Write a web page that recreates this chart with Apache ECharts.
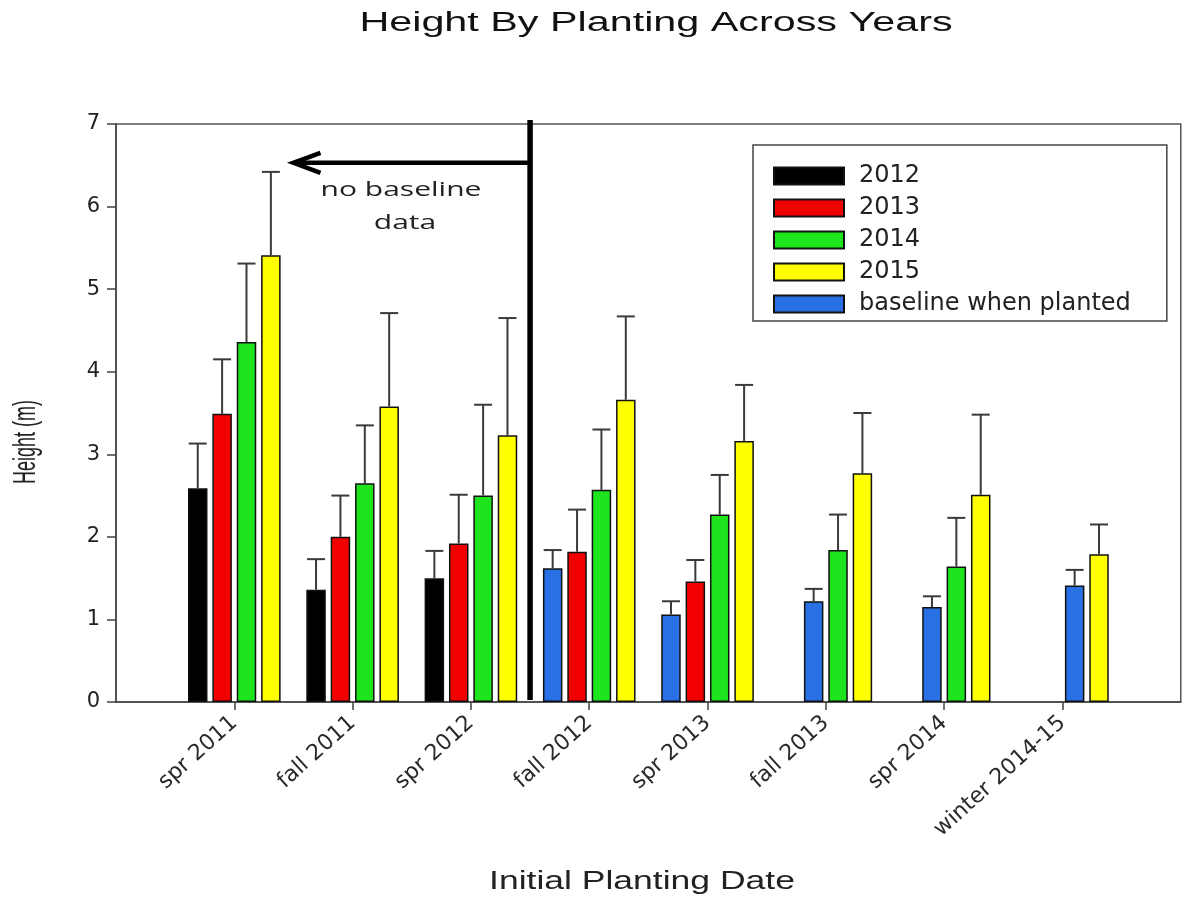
<!DOCTYPE html>
<html>
<head>
<meta charset="utf-8">
<script src="https://cdn.jsdelivr.net/npm/echarts@6/dist/echarts.min.js"></script>
<style>
html,body{margin:0;padding:0;background:#fff;}
#main{width:1183px;height:898px;}
</style>
</head>
<body>
<div id="main"></div>
<script>
// ---- data ----
const categories = ['spr 2011','fall 2011','spr 2012','fall 2012','spr 2013','fall 2013','spr 2014','winter 2014-15'];
const years = ['2012','2013','2014','2015'];
const h2012 = [2.59, 1.36, 1.50, null, null, null, null, null];
const h2013 = [3.49, 2.00, 1.92, 1.82, 1.46, null, null, null];
const h2014 = [4.36, 2.65, 2.50, 2.57, 2.27, 1.84, 1.64, null];
const h2015 = [5.41, 3.58, 3.23, 3.66, 3.16, 2.77, 2.51, 1.79];
const e2012 = [0.54, 0.37, 0.33, null, null, null, null, null];
const e2013 = [0.66, 0.50, 0.59, 0.51, 0.26, null, null, null];
const e2014 = [0.95, 0.70, 1.10, 0.73, 0.48, 0.43, 0.59, null];
const e2015 = [1.01, 1.13, 1.42, 1.01, 0.68, 0.73, 0.97, 0.36];
const baseline = [null, null, null, 1.62, 1.06, 1.22, 1.15, 1.41];
const baselineErr = [null, null, null, 0.22, 0.16, 0.15, 0.13, 0.19];
const baselineColumn = [null, null, null, '2012', '2012', '2013', '2013', '2014'];
const yTicks = [0, 1, 2, 3, 4, 5, 6, 7];
const baselineName = 'baseline when planted';

// ---- styling ----
const yearVals = {'2012': h2012, '2013': h2013, '2014': h2014, '2015': h2015};
const yearErr = {'2012': e2012, '2013': e2013, '2014': e2014, '2015': e2015};
const colors = {'2012': '#000000', '2013': '#f20000', '2014': '#1ee41e', '2015': '#ffff00'};
const baseColor = '#2870e4';
const BAR_W = 19.5, GAP = 0.25, PITCH = BAR_W * (1 + GAP);
const axisCats = [''].concat(categories, ['']);
const FONT = 'DejaVu Sans';

const chart = echarts.init(document.getElementById('main'), null, {renderer: 'canvas'});

const barSeries = years.map(function (y) {
  return {
    type: 'bar', name: y, barWidth: BAR_W, barGap: (GAP * 100) + '%',
    itemStyle: {color: colors[y], borderColor: '#111', borderWidth: 1.5},
    z: 2,
    data: axisCats.map(function (c, k) {
      if (k === 0 || k === axisCats.length - 1) return null;
      const i = k - 1;
      if (baselineColumn[i] === y) return {value: baseline[i], itemStyle: {color: baseColor}};
      return yearVals[y][i];
    })
  };
});

const errData = [];
years.forEach(function (y, s) {
  yearVals[y].forEach(function (v, i) {
    if (v != null) errData.push([i + 1, s, v, yearErr[y][i]]);
  });
});
baseline.forEach(function (v, i) {
  if (v != null) errData.push([i + 1, years.indexOf(baselineColumn[i]), v, baselineErr[i]]);
});

const errSeries = {
  type: 'custom', name: 'err', xAxisIndex: 0, yAxisIndex: 0, z: 3,
  encode: {x: 0, y: 2},
  data: errData,
  renderItem: function (params, api) {
    const k = api.value(0), slot = api.value(1), v = api.value(2), e = api.value(3);
    const b = api.coord([k, v]);
    const t = api.coord([k, v + e]);
    const x = b[0] + (slot - 1.5) * PITCH;
    const st = {stroke: '#3a3a3a', lineWidth: 2};
    return {type: 'group', children: [
      {type: 'line', shape: {x1: x, y1: b[1], x2: x, y2: t[1]}, style: st},
      {type: 'line', shape: {x1: x - 9, y1: t[1], x2: x + 9, y2: t[1]}, style: st}
    ]};
  }
};

const dummyBaseline = {
  type: 'bar', name: baselineName, xAxisIndex: 1, data: [],
  itemStyle: {color: baseColor, borderColor: '#111', borderWidth: 1.5}
};

chart.setOption({
  animation: false,
  backgroundColor: '#ffffff',
  grid: {left: 116, right: -6, top: 124, bottom: 196, show: true, borderColor: '#555', borderWidth: 1.5, backgroundColor: 'transparent'},
  legend: {
    orient: 'vertical', left: 753, top: 145,
    data: years.concat([baselineName]),
    icon: 'rect', itemWidth: 70, itemHeight: 17, itemGap: 8,
    padding: [19, 36, 5, 20],
    borderColor: '#444', borderWidth: 1.5, backgroundColor: '#fff',
    textStyle: {fontFamily: FONT, fontSize: 24, color: '#222', padding: [0, 0, 0, 10]},
    selectedMode: false
  },
  xAxis: [{
    type: 'category', data: axisCats, boundaryGap: false,
    axisLine: {lineStyle: {color: '#444', width: 1.5}},
    axisTick: {show: true, length: 8, inside: false, lineStyle: {color: '#444', width: 1.5},
      interval: function (idx) { return idx > 0 && idx < axisCats.length - 1; }},
    axisLabel: {rotate: 42, interval: 0, margin: 18, fontFamily: FONT, fontSize: 22, color: '#2a2a2a'},
    splitLine: {show: false}
  }, {
    type: 'category', data: axisCats, boundaryGap: false, show: false
  }],
  yAxis: [{
    type: 'value', min: yTicks[0], max: yTicks[yTicks.length - 1], interval: 1,
    axisLine: {show: true, lineStyle: {color: '#444', width: 1.5}},
    axisTick: {show: true, length: 9, lineStyle: {color: '#444', width: 1.5}},
    axisLabel: {margin: 16, fontFamily: FONT, fontSize: 21, color: '#222'},
    splitLine: {show: false}
  }],
  series: barSeries.concat([errSeries, dummyBaseline])
});

// ---- annotations ----
function px(i) { return chart.convertToPixel({xAxisIndex: 0}, i); }
function py(v) { return chart.convertToPixel({yAxisIndex: 0}, v); }
const xDiv = (px(3) + px(4)) / 2;
const xTip = (px(1) + px(2)) / 2;
const yArrow = py(6.53);
const yTop = py(7) - 4;
const yBot = py(0);
const blk = {stroke: '#000', lineWidth: 5.5};

chart.setOption({
  graphic: [
    {type: 'text', x: 656, y: 24, scaleX: 1.53, z: 10,
      style: {text: 'Height By Planting Across Years', font: '27px "Liberation Sans", Arial, sans-serif', fill: '#111', align: 'center', verticalAlign: 'middle'}},
    {type: 'text', x: 642, y: 882, scaleX: 1.42, z: 10,
      style: {text: 'Initial Planting Date', font: '25px "Liberation Sans", Arial, sans-serif', fill: '#222', align: 'center', verticalAlign: 'middle'}},
    {type: 'text', x: 26, y: 442, rotation: Math.PI / 2, scaleY: 1.75, z: 10,
      style: {text: 'Height (m)', font: '18px "Liberation Sans", Arial, sans-serif', fill: '#222', align: 'center', verticalAlign: 'middle'}},
    {type: 'line', z: 20, shape: {x1: xDiv, y1: yTop, x2: xDiv, y2: yBot - 2}, style: blk},
    {type: 'line', z: 20, shape: {x1: xDiv, y1: yArrow, x2: xTip + 2, y2: yArrow}, style: {stroke: '#000', lineWidth: 4.5}},
    {type: 'polyline', z: 20, shape: {points: [[xTip + 27, yArrow - 10], [xTip, yArrow], [xTip + 27, yArrow + 10]]}, style: {stroke: '#000', lineWidth: 4.5, fill: null, lineJoin: 'miter'}},
    {type: 'text', x: 401, y: 190, scaleX: 1.5, z: 10,
      style: {text: 'no baseline', font: '20px "Open Sans", Lato, sans-serif', fill: '#222', align: 'center', verticalAlign: 'middle'}},
    {type: 'text', x: 405, y: 223, scaleX: 1.5, z: 10,
      style: {text: 'data', font: '20px "Open Sans", Lato, sans-serif', fill: '#222', align: 'center', verticalAlign: 'middle'}}
  ]
});
</script>
</body>
</html>
